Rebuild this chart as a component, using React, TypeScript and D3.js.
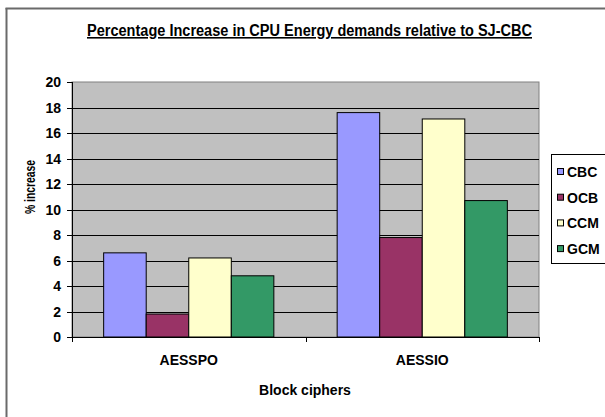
import React from "react";
import * as d3 from "d3";

const categories = ["AESSPO", "AESSIO"];
const seriesNames = ["CBC", "OCB", "CCM", "GCM"];
const seriesColors = ["#9999FF", "#993366", "#FFFFCC", "#339966"];
const CBC = [6.6, 17.6];
const OCB = [1.8, 7.8];
const CCM = [6.2, 17.1];
const GCM = [4.8, 10.7];
const seriesValues = [CBC, OCB, CCM, GCM];
const yTicks = [0, 2, 4, 6, 8, 10, 12, 14, 16, 18, 20];

const FONT = "'Liberation Sans', Arial, sans-serif";

export default function App() {
  const W = 605, H = 417;
  const pl = 72, pr = 539, pt = 82, pb = 337;
  const x0 = d3.scaleBand().domain(categories).range([pl, pr]).paddingInner(0).paddingOuter(0);
  const x1 = d3.scaleBand().domain(seriesNames).range([0, x0.bandwidth()]).paddingInner(0).paddingOuter(0.744);
  const y = d3.scaleLinear().domain([0, 20]).range([pb, pt]);
  const xTickPos = [pl, ...categories.map((c) => (x0(c) as number) + x0.bandwidth())];

  return (
    <svg width={W} height={H} style={{ position: "absolute", left: 0, top: 0 }} fontFamily={FONT}>
      <rect x={0} y={0} width={W} height={H} fill="#fff" />
      <line x1={6.5} y1={8} x2={6.5} y2={H} stroke="#6a6a6a" strokeWidth={2} />
      <line x1={5.5} y1={8.5} x2={W} y2={8.5} stroke="#6a6a6a" strokeWidth={2} />
      <text x={87} y={36} fontSize={16} fontWeight="bold" fill="#000" textDecoration="underline"
        textLength={445} lengthAdjust="spacingAndGlyphs">
        Percentage Increase in CPU Energy demands relative to SJ-CBC
      </text>
      <rect x={pl} y={pt} width={pr - pl} height={pb - pt} fill="#C0C0C0" stroke="#808080" strokeWidth={1} />
      {yTicks.filter((t) => t > 0 && t < 20).map((t) => (
        <line key={t} x1={pl} x2={pr} y1={Math.round(y(t)) + 0.5} y2={Math.round(y(t)) + 0.5} stroke="#000" strokeWidth={1} />
      ))}
      {categories.map((c, ci) => (
        <g key={c}>
          {seriesNames.map((s, si) => (
            <rect
              key={s}
              x={(x0(c) as number) + (x1(s) as number)}
              y={y(seriesValues[si][ci])}
              width={x1.bandwidth()}
              height={pb - y(seriesValues[si][ci])}
              fill={seriesColors[si]}
              stroke="#000"
              strokeWidth={1}
            />
          ))}
        </g>
      ))}
      <line x1={pl + 0.5} x2={pl + 0.5} y1={pt} y2={pb} stroke="#000" />
      {yTicks.map((t) => (
        <g key={t}>
          <line x1={pl - 5} x2={pl} y1={Math.round(y(t)) + 0.5} y2={Math.round(y(t)) + 0.5} stroke="#000" />
          <text x={61} y={y(t) + 5} textAnchor="end" fontSize={14} fontWeight="bold">{t}</text>
        </g>
      ))}
      <line x1={pl} x2={pr} y1={pb + 0.5} y2={pb + 0.5} stroke="#000" />
      {xTickPos.map((p, i) => (
        <line key={i} x1={Math.round(p) + 0.5} x2={Math.round(p) + 0.5} y1={pb} y2={pb + 5} stroke="#000" />
      ))}
      {categories.map((c) => (
        <text key={c} x={(x0(c) as number) + x0.bandwidth() / 2} y={365} textAnchor="middle" fontSize={14} fontWeight="bold">{c}</text>
      ))}
      <text x={305} y={395} textAnchor="middle" fontSize={14} fontWeight="bold">Block ciphers</text>
      <text transform={`translate(35,214) rotate(-90)`} fontSize={14} fontWeight="bold"
        textLength={54} lengthAdjust="spacingAndGlyphs">% increase</text>
      <rect x={551.5} y={154.5} width={60} height={109} fill="#fff" stroke="#000" />
      {seriesNames.map((s, i) => {
        const cy = 172 + i * 25.7;
        return (
          <g key={s}>
            <rect x={557.5} y={cy - 3.5} width={6} height={6} fill={seriesColors[i]} stroke="#000" />
            <text x={567} y={cy + 5} fontSize={14} fontWeight="bold">{s}</text>
          </g>
        );
      })}
    </svg>
  );
}
